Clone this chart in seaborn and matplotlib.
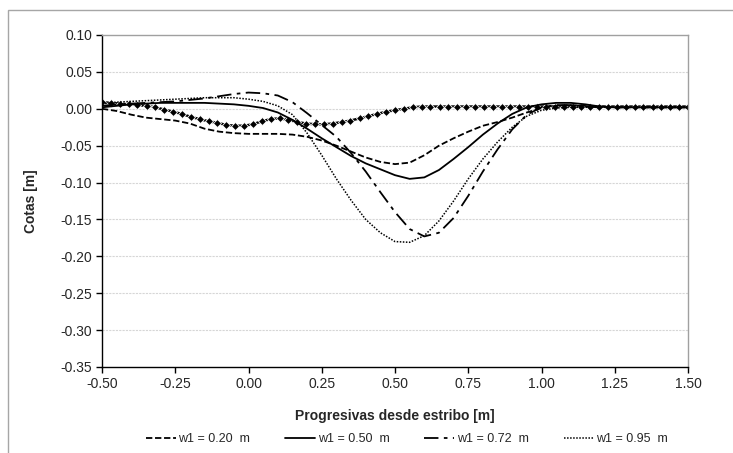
import numpy as np
import pandas as pd
import matplotlib
matplotlib.use("Agg")
import matplotlib.pyplot as plt
import seaborn as sns
from matplotlib.patches import Rectangle

# ---- data ----
x_curves = [-0.50, -0.45, -0.40, -0.35, -0.30, -0.25, -0.20, -0.15, -0.10, -0.05,
            0.00, 0.05, 0.10, 0.15, 0.20, 0.25, 0.30, 0.35, 0.40, 0.45,
            0.50, 0.55, 0.60, 0.65, 0.70, 0.75, 0.80, 0.85, 0.90, 0.95,
            1.00, 1.05, 1.10, 1.15, 1.20, 1.25, 1.30, 1.35, 1.40, 1.45, 1.50]

w020 = [0.000, -0.003, -0.008, -0.012, -0.014, -0.016, -0.020, -0.027, -0.031, -0.033,
        -0.034, -0.034, -0.034, -0.035, -0.038, -0.043, -0.050, -0.058, -0.066, -0.072,
        -0.075, -0.073, -0.063, -0.050, -0.040, -0.031, -0.023, -0.018, -0.012, -0.005,
        0.001, 0.004, 0.005, 0.004, 0.003, 0.002, 0.002, 0.002, 0.002, 0.002, 0.002]

w050 = [0.002, 0.004, 0.006, 0.007, 0.008, 0.008, 0.008, 0.008, 0.007, 0.006,
        0.004, 0.001, -0.005, -0.015, -0.027, -0.040, -0.052, -0.064, -0.074, -0.082,
        -0.090, -0.095, -0.093, -0.083, -0.068, -0.052, -0.035, -0.020, -0.007, 0.002,
        0.006, 0.008, 0.008, 0.006, 0.003, 0.002, 0.002, 0.002, 0.002, 0.002, 0.002]

w072 = [0.004, 0.006, 0.007, 0.008, 0.009, 0.010, 0.012, 0.014, 0.017, 0.020,
        0.022, 0.021, 0.018, 0.009, -0.006, -0.022, -0.038, -0.060, -0.085, -0.113,
        -0.140, -0.163, -0.173, -0.168, -0.148, -0.118, -0.085, -0.055, -0.028, -0.008,
        0.002, 0.005, 0.005, 0.003, 0.002, 0.002, 0.002, 0.002, 0.002, 0.002, 0.002]

w095 = [0.007, 0.009, 0.010, 0.011, 0.012, 0.013, 0.014, 0.015, 0.015, 0.015,
        0.013, 0.010, 0.004, -0.008, -0.033, -0.063, -0.095, -0.124, -0.150, -0.168,
        -0.180, -0.181, -0.172, -0.152, -0.125, -0.095, -0.068, -0.045, -0.025, -0.010,
        -0.002, 0.001, 0.002, 0.002, 0.002, 0.002, 0.002, 0.002, 0.002, 0.002, 0.002]

x_bed = [-0.500, -0.470, -0.439, -0.409, -0.379, -0.348, -0.318, -0.288, -0.258, -0.227,
         -0.197, -0.167, -0.136, -0.106, -0.076, -0.045, -0.015, 0.015, 0.045, 0.076,
         0.106, 0.136, 0.167, 0.197, 0.227, 0.258, 0.288, 0.318, 0.348, 0.379,
         0.409, 0.439, 0.470, 0.500, 0.530, 0.561, 0.591, 0.621, 0.652, 0.682,
         0.712, 0.742, 0.773, 0.803, 0.833, 0.864, 0.894, 0.924, 0.955, 0.985,
         1.015, 1.045, 1.076, 1.106, 1.136, 1.167, 1.197, 1.227, 1.258, 1.288,
         1.318, 1.348, 1.379, 1.409, 1.439, 1.470, 1.500]
y_bed = [0.009, 0.008, 0.007, 0.006, 0.005, 0.004, 0.002, -0.001, -0.004, -0.007,
         -0.011, -0.014, -0.017, -0.019, -0.022, -0.023, -0.023, -0.021, -0.017, -0.014,
         -0.013, -0.015, -0.018, -0.020, -0.021, -0.021, -0.020, -0.018, -0.016, -0.013,
         -0.010, -0.007, -0.004, -0.002, 0.000, 0.002, 0.003, 0.003, 0.003, 0.003,
         0.003, 0.003, 0.003, 0.003, 0.003, 0.003, 0.003, 0.003, 0.003, 0.003,
         0.003, 0.003, 0.003, 0.003, 0.003, 0.003, 0.003, 0.003, 0.003, 0.003,
         0.003, 0.003, 0.003, 0.003, 0.003, 0.003, 0.003]

labels = ["w1 = 0.20  m", "w1 = 0.50  m", "w1 = 0.72  m", "w1 = 0.95  m"]
x_ticks = [-0.50, -0.25, 0.00, 0.25, 0.50, 0.75, 1.00, 1.25, 1.50]
y_ticks = [0.10, 0.05, 0.00, -0.05, -0.10, -0.15, -0.20, -0.25, -0.30, -0.35]

# ---- style ----
sns.set_theme(style="white")
plt.rcParams['font.family'] = ['Liberation Sans', 'DejaVu Sans']

fig = plt.figure(figsize=(7.33, 4.53), dpi=100)
ax = fig.add_axes([102/733, 1-367/453, (688-102)/733, (367-35)/453])

# outer chart border
fig.patches.append(Rectangle((8/733, -0.1), 1.2, 1 - 10/453 + 0.1,
                             transform=fig.transFigure, fill=False,
                             edgecolor="#a6a6a6", linewidth=1.0, zorder=0))

ax.set_xlim(-0.5, 1.5)
ax.set_ylim(-0.35, 0.10)
ax.set_xticks(x_ticks)
ax.set_yticks(y_ticks)
ax.set_xticklabels([f"{v:.2f}" for v in x_ticks])
ax.set_yticklabels([f"{v:.2f}" for v in y_ticks])

for yv in y_ticks[1:-1]:
    ax.axhline(yv, color="#d6d6d6", linewidth=0.8, linestyle=(0, (2, 1)), zorder=0)

sns.lineplot(x=x_bed, y=y_bed, ax=ax, color="black", linewidth=1.8,
             marker="D", markersize=4.2, markeredgewidth=0.6, label="_nolegend_")

styles = [(0, (3.5, 1.5)), "-", (0, (8, 3, 2, 3)), (0, (1, 1))]
widths = [1.3, 1.3, 1.3, 1.1]
for ys, lab, ls, lw in zip([w020, w050, w072, w095], labels, styles, widths):
    sns.lineplot(x=x_curves, y=ys, ax=ax, color="black", linewidth=lw,
                 linestyle=ls, label=lab)

if ax.legend_:
    ax.legend_.remove()

for s in ["left", "bottom"]:
    ax.spines[s].set_color("black")
    ax.spines[s].set_linewidth(1.0)
for s in ["top", "right"]:
    ax.spines[s].set_color("#a0a0a0")
    ax.spines[s].set_linewidth(1.0)

ax.tick_params(axis="both", which="both", direction="out", length=4, width=1,
               color="black", labelsize=10, pad=3, bottom=True, left=True)

ax.set_xlabel("Progresivas desde estribo [m]", fontsize=10, fontweight="bold", labelpad=13)
ax.set_ylabel("Cotas [m]", fontsize=10, fontweight="bold", labelpad=16)

handles, labs = ax.get_legend_handles_labels()
fig.legend(handles, labs, loc="center", bbox_to_anchor=(0.555, 1-439/453), ncol=4,
           frameon=False, fontsize=9, handlelength=2.4, handletextpad=0.2,
           columnspacing=2.8)

fig.savefig("out.png", dpi=100)
